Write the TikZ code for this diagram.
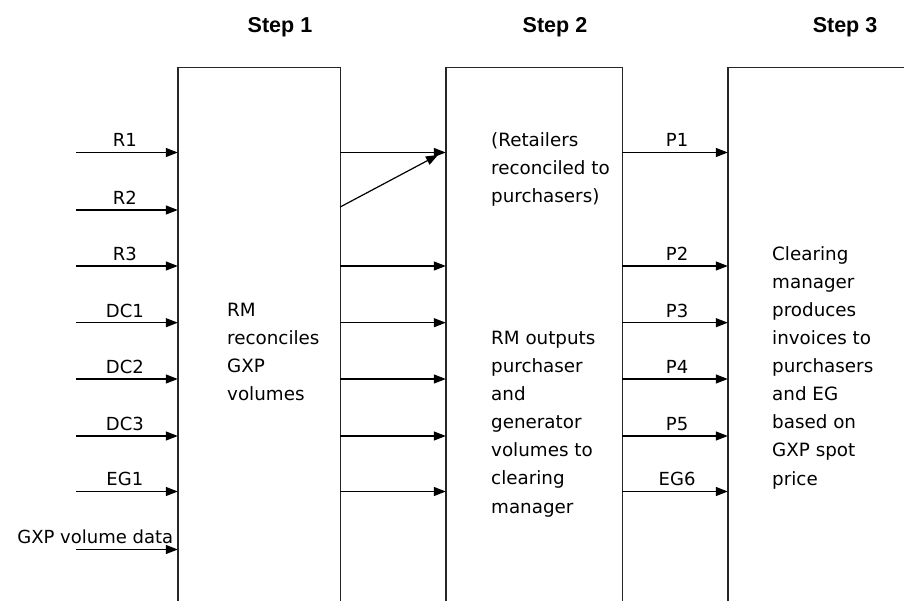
\documentclass[tikz,border=0pt]{standalone}
\usepackage{fontspec}
\setmainfont{DejaVu Sans}
\newfontfamily\stepfont{Liberation Sans}
\usetikzlibrary{arrows.meta}
\begin{document}
\begin{tikzpicture}[x=1pt,y=-1pt,
  boxnode/.style={rectangle, draw=none, inner sep=0pt},
  boxline/.style={line width=1.4pt, black!85},
  arr/.style={line width=1.2pt, -{Triangle[length=12pt,width=9pt]}},
  txt/.style={inner sep=0pt, align=left, font=\fontsize{18.3}{28.1}\selectfont},
  lbl/.style={inner sep=0pt, font=\fontsize{18}{22}\selectfont},
  steplbl/.style={inner sep=0pt, anchor=base, font=\stepfont\bfseries\fontsize{21.5}{24}\selectfont}]
\useasboundingbox (0,0) rectangle (904,601);

% boxes (open at the bottom, cut by the picture edge)
\node[boxnode, minimum width=162pt, minimum height=537pt] (b1) at (259,336.5) {};
\node[boxnode, minimum width=176pt, minimum height=537pt] (b2) at (534,336.5) {};
\node[boxnode, minimum width=192pt, minimum height=537pt] (b3) at (824,336.5) {};
\foreach \b in {b1,b2,b3}
  \draw[boxline] (\b.south west) |- (\b.north east) -- (\b.south east);

% step titles
\node[steplbl] (s1) at (280,33) {Step 1};
\node[steplbl] (s2) at (555,33) {Step 2};
\node[steplbl] (s3) at (845,33) {Step 3};

% box texts (anchor = baseline of the last line)
\node[txt, anchor=base west] (t1) at (227,400.5) {RM\\reconciles\\GXP\\volumes};
\node[txt, anchor=base west] (t2a) at (491,203) {(Retailers\\reconciled to\\purchasers)};
\node[txt, anchor=base west] (t2b) at (491,513) {RM outputs\\purchaser\\and\\generator\\volumes to\\clearing\\manager};
\node[txt, anchor=base west] (t3) at (772,485) {Clearing\\manager\\produces\\invoices to\\purchasers\\and EG\\based on\\GXP spot\\price};

% row levels
\coordinate (y1) at (0,152.5);
\coordinate (y2) at (0,210);
\coordinate (y3) at (0,266);
\coordinate (y4) at (0,322.7);
\coordinate (y5) at (0,379);
\coordinate (y6) at (0,436);
\coordinate (y7) at (0,491.5);
\coordinate (y8) at (0,549.5);

% inputs to step 1
\foreach \y/\t in {1/R1,2/R2,3/R3,4/DC1,5/DC2,6/DC3,7/EG1}{
  \coordinate (in\y) at (76,0 |- y\y);
  \draw[arr] (in\y) -- (in\y -| b1.west)
    node[lbl, pos=0.48, anchor=base, yshift=5.6pt] {\t};
}
\coordinate (in8) at (76,0 |- y8);
\draw[arr] (in8) -- (in8 -| b1.west)
  node[lbl, pos=1, anchor=base east, xshift=-4pt, yshift=5.6pt] {GXP volume data};

% step 1 to step 2
\foreach \y in {1,3,4,5,6,7}
  \draw[arr] (b1.east |- y\y) -- (b2.west |- y\y);
\coordinate (dstart) at (0,207);
\coordinate (dend) at (438,155);
\draw[arr] (b1.east |- dstart) -- (dend);

% step 2 to step 3
\foreach \y/\t in {1/P1,3/P2,4/P3,5/P4,6/P5,7/EG6}
  \draw[arr] (b2.east |- y\y) -- (b3.west |- y\y)
    node[lbl, pos=0.52, anchor=base, yshift=5.6pt] {\t};
\end{tikzpicture}
\end{document}
